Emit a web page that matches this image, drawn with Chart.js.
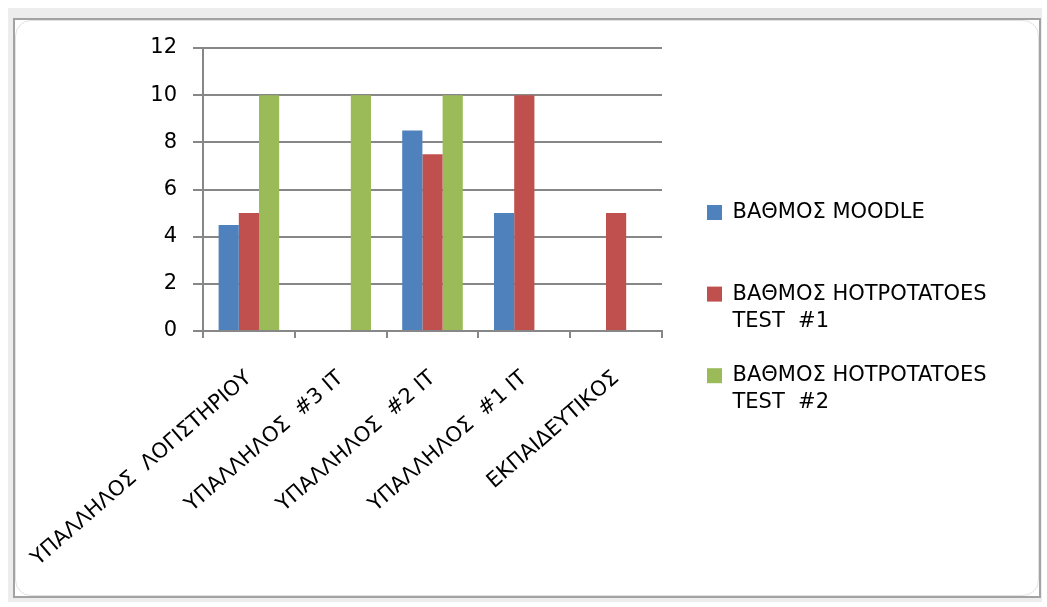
<!DOCTYPE html>
<html>
<head>
<meta charset="utf-8">
<script src="https://cdn.jsdelivr.net/npm/chart.js@4/dist/chart.umd.min.js"></script>
<style>
    body { margin: 0; background: #ffffff; }
    #strip { position: absolute; left: 8px; top: 8px; width: 1034px; height: 594px; background: #ededed; }
    #frame { position: absolute; left: 13px; top: 18px; width: 1024px; height: 576px; border: 2px solid #a3a3a3; background: #ffffff; }
    #inner { position: absolute; left: 0; top: 0; right: 0; bottom: 0; border: 1px solid #e2e2e2; border-radius: 16px; }
    #wrap { position: absolute; left: 0; top: 0; width: 1047px; height: 607px; }
</style>
</head>
<body>
<div id="strip"></div>
<div id="frame"><div id="inner"></div></div>
<div id="wrap"><canvas id="grafico"></canvas></div>
<script>
var categorias = ['ΥΠΑΛΛΗΛΟΣ  ΛΟΓΙΣΤΗΡΙΟΥ', 'ΥΠΑΛΛΗΛΟΣ  #3 IT', 'ΥΠΑΛΛΗΛΟΣ  #2 IT', 'ΥΠΑΛΛΗΛΟΣ  #1 IT', 'ΕΚΠΑΙΔΕΥΤΙΚΟΣ'];
var vathmosMoodle = [4.5, null, 8.5, 5, null];
var vathmosTest1 = [5, null, 7.5, 10, 5];
var vathmosTest2 = [10, 10, 10, null, null];
var tickValues = [0, 2, 4, 6, 8, 10, 12];

var grammes = '#878787';
var grammatoseira = { family: 'DejaVu Sans', size: 21 };

// to legend kato kai dexia, opws sto excel
var legendShift = {
    id: 'legendShift',
    afterLayout: function (chart) {
        chart.legend.left = chart.chartArea.right + 18;
        chart.legend.right = 1040;
        chart.legend.top = 175;
        chart.legend.bottom = 560;
    }
};

const dedomena = {
    labels: categorias,
    datasets: [{
        label: ['ΒΑΘΜΟΣ MOODLE', ''],
        backgroundColor: '#4f81bd',
        data: vathmosMoodle
    }, {
        label: ['ΒΑΘΜΟΣ HOTPOTATOES', 'TEST  #1'],
        backgroundColor: '#c0504d',
        data: vathmosTest1
    }, {
        label: ['ΒΑΘΜΟΣ HOTPOTATOES', 'TEST  #2'],
        backgroundColor: '#9bbb59',
        data: vathmosTest2
    }]
};

const config = {
    type: 'bar',
    data: dedomena,
    plugins: [legendShift],
    options: {
        responsive: false,
        animation: false,
        layout: {
            padding: { left: 14, top: 48, right: 169, bottom: 10 }
        },
        datasets: {
            bar: { categoryPercentage: 0.66, barPercentage: 1.0 }
        },
        plugins: {
            tooltip: { enabled: false },
            legend: {
                position: 'right',
                align: 'start',
                labels: {
                    boxWidth: 15,
                    boxHeight: 15,
                    padding: 27,
                    color: '#000000',
                    font: { family: 'DejaVu Sans', size: 21, lineHeight: 1.3 },
                    generateLabels: function (chart) {
                        return chart.data.datasets.map(function (ds, i) {
                            return {
                                text: ds.label,
                                fillStyle: ds.backgroundColor,
                                strokeStyle: ds.backgroundColor,
                                lineWidth: 0,
                                datasetIndex: i
                            };
                        });
                    }
                }
            }
        },
        scales: {
            x: {
                afterFit: function (scale) {
                    scale.height = 266;
                    scale.paddingLeft = 0;
                    scale.paddingRight = 0;
                },
                grid: {
                    offset: true,
                    drawOnChartArea: false,
                    tickLength: 7,
                    color: grammes,
                    lineWidth: 2
                },
                border: { color: grammes, width: 2 },
                ticks: {
                    autoSkip: false,
                    minRotation: 41,
                    maxRotation: 41,
                    padding: 28,
                    color: '#000000',
                    font: grammatoseira
                }
            },
            y: {
                min: 0,
                max: 12,
                afterFit: function (scale) { scale.width = 189; },
                afterBuildTicks: function (scale) {
                    scale.ticks = tickValues.map(function (v) { return { value: v }; });
                },
                grid: {
                    color: grammes,
                    lineWidth: 2,
                    tickLength: 10
                },
                border: { color: grammes, width: 2 },
                ticks: {
                    padding: 16,
                    color: '#000000',
                    font: grammatoseira
                }
            }
        }
    }
};

var canvas = document.getElementById('grafico');
canvas.width = 1047;
canvas.height = 607;
var barChart = new Chart(canvas, config);
</script>
</body>
</html>
